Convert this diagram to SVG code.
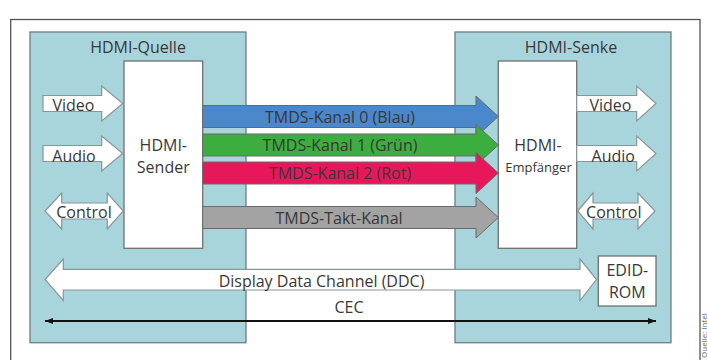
<svg xmlns="http://www.w3.org/2000/svg" width="707" height="360" viewBox="0 0 707 360">
  <style>
    text { font-family: "Open Sans", "Liberation Sans", sans-serif; fill: #383838; }
    .t16 { font-size: 16px; }
    .t13 { font-size: 13px; }
    .mid { text-anchor: middle; }
    .device { fill: #a8d5db; stroke: #6f7d80; stroke-width: 1.3; }
    .chip { fill: #ffffff; stroke: #707070; stroke-width: 1.3; }
    .io { fill: #ffffff; stroke: #8a9597; stroke-width: 1.2; stroke-linejoin: miter; }
    .tmds { stroke: #6a6a6a; stroke-width: 1; stroke-linejoin: miter; }
  </style>
  <defs>
    <marker id="cecEnd" viewBox="0 0 8 6" refX="8" refY="3" markerWidth="8" markerHeight="6" markerUnits="userSpaceOnUse" orient="auto-start-reverse">
      <path d="M0,0 L8,3 L0,6 Z" fill="#111"/>
    </marker>
  </defs>

  <rect x="0" y="0" width="707" height="360" fill="#ffffff"/>

  <!-- outer frame -->
  <rect x="10.7" y="19.5" width="689.3" height="360" fill="none" stroke="#555" stroke-width="1.3"/>

  <!-- source device -->
  <g id="hdmi-quelle">
    <rect class="device" x="30" y="32" width="216" height="310.7"/>
    <text class="t16 mid" x="138" y="52.7">HDMI-Quelle</text>
  </g>

  <!-- sink device -->
  <g id="hdmi-senke">
    <rect class="device" x="455" y="32" width="216" height="310.7"/>
    <text class="t16 mid" x="571" y="52.7">HDMI-Senke</text>
  </g>

  <g id="hdmi-sender">
    <rect class="chip" x="124" y="61" width="78.7" height="187.3"/>
    <text class="t16 mid" x="163.3" y="150.5">HDMI-</text>
    <text class="t16 mid" x="163.3" y="172.7">Sender</text>
  </g>

  <g id="hdmi-empfaenger">
    <rect class="chip" x="498.3" y="61" width="78.4" height="187.3"/>
    <text class="t16 mid" x="538" y="150.7">HDMI-</text>
    <text class="t13 mid" x="538.5" y="171.7">Empfänger</text>
  </g>

  <g id="edid-rom">
    <rect class="chip" x="598.3" y="256" width="57.7" height="50"/>
    <text class="t16 mid" x="627.3" y="276.3">EDID-</text>
    <text class="t16 mid" x="627.3" y="298.3">ROM</text>
  </g>

  <g id="connectors">
    <!-- source inputs -->
    <path class="io" d="M43,95.5 H101.7 V86 L122.7,103.5 L101.7,121 V111.5 H43 Z"/>
    <path class="io" d="M43,145.5 H101.7 V136 L122.7,153.5 L101.7,171 V161.5 H43 Z"/>
    <path class="io" d="M45,211 L61.7,193 V203 H107.3 V193 L123.3,211 L107.3,229 V219 H61.7 V229 Z"/>

    <!-- sink outputs -->
    <path class="io" d="M576.7,95.5 H636.7 V86 L656,103.5 L636.7,121 V111.5 H576.7 Z"/>
    <path class="io" d="M576.7,145.5 H636.7 V136 L656,153.5 L636.7,171 V161.5 H576.7 Z"/>
    <path class="io" d="M577.7,211 L593,193 V203 H638 V193 L655,211 L638,229 V219 H593 V229 Z"/>

    <!-- TMDS data and clock channels -->
    <path class="tmds" fill="#4a87cb" d="M202.7,105.5 H476 V96 L498.3,116.5 L476,137 V127.5 H202.7 Z"/>
    <path class="tmds" fill="#3cad3f" d="M202.7,134 H476 V124.5 L498.3,145 L476,165.5 V156 H202.7 Z"/>
    <path class="tmds" fill="#e8175b" d="M202.7,162 H476 V152.5 L498.3,173 L476,193.5 V184 H202.7 Z"/>
    <path class="tmds" fill="#a3a3a3" d="M202.7,206.5 H476 V197 L498.3,217.5 L476,238 V228.5 H202.7 Z"/>

    <!-- DDC -->
    <path class="io" d="M45,279.5 L63.3,259 V269.3 H580 V259 L596.5,279.5 L580,300.5 V290 H63.3 V300.5 Z"/>

    <!-- CEC -->
    <line x1="45" y1="321" x2="656" y2="321" stroke="#111" stroke-width="2" marker-start="url(#cecEnd)" marker-end="url(#cecEnd)"/>
  </g>

  <!-- labels -->
  <text class="t16 mid" x="73.5" y="111">Video</text>
  <text class="t16 mid" x="74" y="161.8">Audio</text>
  <text class="t16 mid" x="84" y="217.5">Control</text>
  <text class="t16 mid" x="610.5" y="111">Video</text>
  <text class="t16 mid" x="613.3" y="161.8">Audio</text>
  <text class="t16 mid" x="613.8" y="217.5">Control</text>

  <text class="t16 mid" x="340" y="123.3">TMDS-Kanal 0 (Blau)</text>
  <text class="t16 mid" x="340" y="150.7">TMDS-Kanal 1 (Grün)</text>
  <text class="t16 mid" x="340" y="178.5">TMDS-Kanal 2 (Rot)</text>
  <text class="t16 mid" x="339" y="223.5">TMDS-Takt-Kanal</text>

  <text class="t16 mid" x="321.5" y="286.7">Display Data Channel (DDC)</text>
  <text class="t16 mid" x="349" y="313.3">CEC</text>

  <!-- credit line along the right edge -->
  <text x="706.5" y="358" font-size="8" transform="rotate(-90 706.5 358)" style="fill:#666">Quelle: Intel</text>
</svg>
